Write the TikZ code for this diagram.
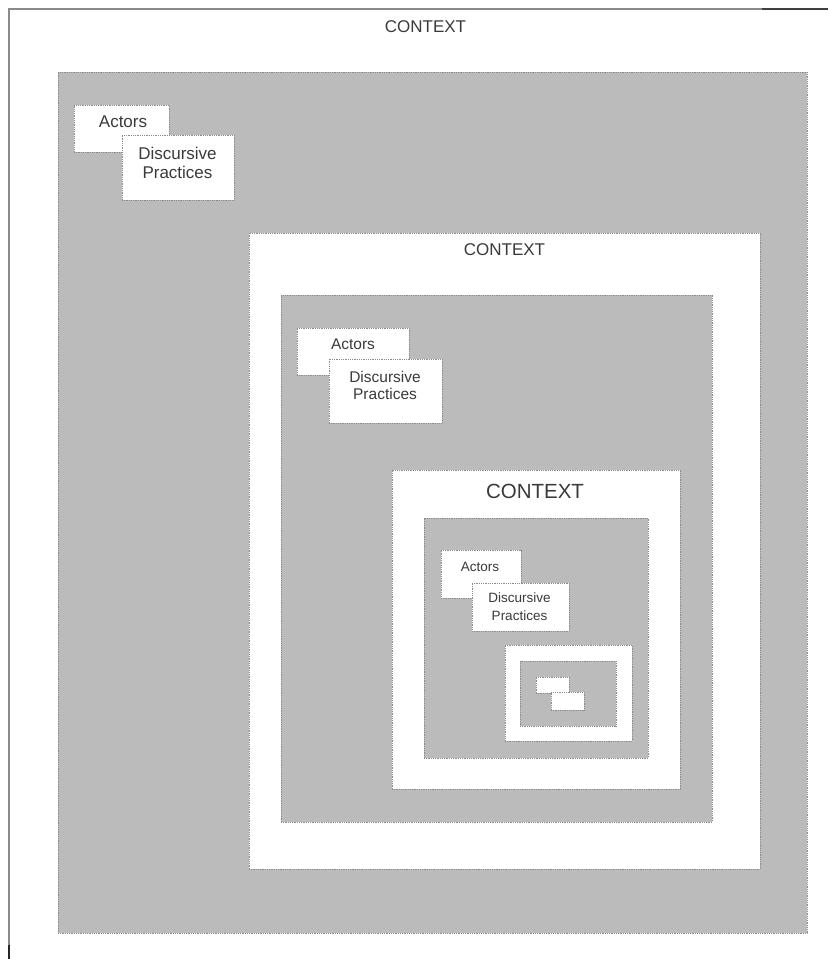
\documentclass[tikz,border=0pt]{standalone}
\usepackage{fontspec}
\setmainfont{Liberation Sans}
\definecolor{boxgray}{HTML}{BBBBBB}
\definecolor{txt}{HTML}{3A3A3A}
\definecolor{edgegray}{HTML}{8C8C8C}
\definecolor{framegray}{HTML}{8A8A8A}
\begin{document}
\begin{tikzpicture}[x=1pt,y=-1pt,
  box/.style={draw=edgegray, densely dotted, line width=0.8pt, anchor=north west, inner sep=0pt, outer sep=0pt},
  graybox/.style={box, fill=boxgray},
  whitebox/.style={box, fill=white},
  lbl/.style={text=txt, align=center, inner sep=0pt},
  lone/.style={lbl, font={\fontsize{17}{19}\selectfont}},
  ltwo/.style={lbl, font={\fontsize{15.5}{17}\selectfont}},
  lthree/.style={lbl, font={\fontsize{13.5}{18}\selectfont}},
  lctx/.style={lbl, font={\fontsize{17}{19}\selectfont}},
  lctxbig/.style={lbl, font={\fontsize{20.5}{22}\selectfont}}]
\useasboundingbox (0,0) rectangle (828,959);
% outer frame
\coordinate (tr) at (828,9);
\coordinate (tl) at (9,9);
\coordinate (bl) at (9,959);
\coordinate (trd) at (762,9);
\coordinate (bld) at (9,945);
\draw[framegray, line width=1.2pt] (tr) -- (tl) -- (bl);
\draw[black!75, line width=1.4pt] (trd) -- (tr);
\draw[black!85, line width=1.6pt] (bld) -- (bl);
\node[lctx] (c1) at (425.5,26.5) {CONTEXT};
% level 1
\node[graybox, minimum width=749pt, minimum height=861pt] (g1) at (58,72) {};
\node[whitebox, minimum width=95pt, minimum height=47pt] (a1) at (74,105) {};
\node[whitebox, minimum width=112pt, minimum height=65pt] (d1) at (122,135) {};
\node[lone] (la1) at (123,121.5) {Actors};
\node[lone] (ld1) at (177.5,163) {Discursive\\Practices};
% level 2
\node[whitebox, minimum width=511pt, minimum height=636pt] (w2) at (249,233) {};
\node[lctx] (c2) at (504.5,249.5) {CONTEXT};
\node[graybox, minimum width=431pt, minimum height=527pt] (g2) at (281,295) {};
\node[whitebox, minimum width=112pt, minimum height=47pt] (a2) at (297,328) {};
\node[whitebox, minimum width=113pt, minimum height=64pt] (d2) at (329,359) {};
\node[ltwo] (la2) at (353,344) {Actors};
\node[ltwo] (ld2) at (385,385) {Discursive\\Practices};
% level 3
\node[whitebox, minimum width=288pt, minimum height=319pt] (w3) at (392,470) {};
\node[lctxbig] (c3) at (535,491.5) {CONTEXT};
\node[graybox, minimum width=224pt, minimum height=240pt] (g3) at (424,518) {};
\node[whitebox, minimum width=80pt, minimum height=48pt] (a3) at (441,550) {};
\node[whitebox, minimum width=97pt, minimum height=48pt] (d3) at (472,583) {};
\node[lthree] (la3) at (480,566.5) {Actors};
\node[lthree] (ld3) at (519.5,606.5) {Discursive\\Practices};
% level 4
\node[whitebox, minimum width=127pt, minimum height=96pt] (w4) at (505,645) {};
\node[graybox, minimum width=96pt, minimum height=65pt] (g4) at (520,661) {};
\node[whitebox, minimum width=33pt, minimum height=16pt] (s1) at (536,677) {};
\node[whitebox, minimum width=33pt, minimum height=18pt] (s2) at (551,692) {};
\end{tikzpicture}
\end{document}
